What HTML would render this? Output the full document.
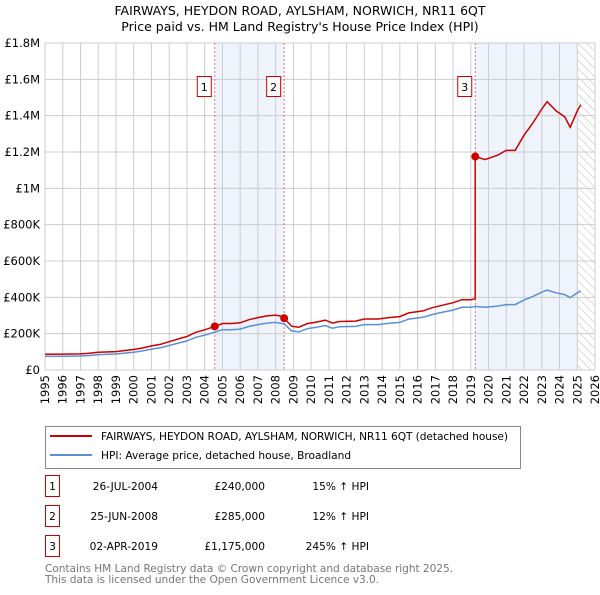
<!DOCTYPE html>
<html><head><meta charset="utf-8"><style>
body{margin:0;background:#fff;font-family:"Liberation Sans","DejaVu Sans",sans-serif;}
svg text{font-family:"DejaVu Sans","Liberation Sans",sans-serif;}
</style></head><body>
<svg id="chart" width="600" height="590" xmlns="http://www.w3.org/2000/svg">
<defs><pattern id="hatch" width="6" height="6" patternUnits="userSpaceOnUse" patternTransform="rotate(-45)"><line x1="0" y1="0" x2="0" y2="6" stroke="#bbb" stroke-width="1"/></pattern></defs>
<text x="300" y="15" font-size="12.5" text-anchor="middle">FAIRWAYS, HEYDON ROAD, AYLSHAM, NORWICH, NR11 6QT</text>
<text x="300" y="31" font-size="12.5" text-anchor="middle">Price paid vs. HM Land Registry's House Price Index (HPI)</text>
<g id="plot"></g>
<rect x="45.5" y="426.5" width="475" height="42" fill="#fff" stroke="#888"/>
<line x1="50" y1="436" x2="92" y2="436" stroke="#cc0000" stroke-width="2"/>
<text x="101" y="440" font-size="10.6" textLength="407">FAIRWAYS, HEYDON ROAD, AYLSHAM, NORWICH, NR11 6QT (detached house)</text>
<line x1="50" y1="455" x2="92" y2="455" stroke="#5b8fd6" stroke-width="2"/>
<text x="101" y="459" font-size="10.6">HPI: Average price, detached house, Broadland</text>
<g id="table" font-size="10.6"></g>
<text x="45" y="572" font-size="10.6" fill="#777" textLength="408">Contains HM Land Registry data © Crown copyright and database right 2025.</text>
<text x="45" y="583" font-size="10.6" fill="#777" textLength="334">This data is licensed under the Open Government Licence v3.0.</text>
</svg>
<script>
const hpiYears=[1995,1996,1997,1997.5,1998,1999,2000,2000.5,2001,2001.5,2002,2002.5,2003,2003.5,2004,2004.57,2005,2005.5,2006,2006.5,2007,2007.5,2008,2008.48,2008.9,2009.3,2009.8,2010.3,2010.8,2011.2,2011.6,2012.5,2013,2013.8,2014.5,2015,2015.5,2016.3,2016.8,2017.5,2018,2018.5,2019,2019.25,2019.8,2020.5,2021,2021.5,2022,2022.5,2023,2023.3,2023.8,2024.3,2024.6,2025,2025.2];
const hpiValues=[75,76,77,80,85,88,98,105,115,122,135,148,160,180,192,208,222,222,225,240,250,258,262,254,215,210,228,235,245,230,238,240,250,250,258,262,280,290,305,320,330,345,345,350,345,352,360,360,385,405,428,440,425,415,398,425,435];
const saleYears=[2004.57,2008.48,2019.25];
const salePrices=[240,285,1175];
const saleLabels=["1","2","3"];
const saleDates=["26-JUL-2004","25-JUN-2008","02-APR-2019"];
const salePriceText=["£240,000","£285,000","£1,175,000"];
const saleHpiText=["15% ↑ HPI","12% ↑ HPI","245% ↑ HPI"];
const yTicks=[0,200,400,600,800,1000,1200,1400,1600,1800];
const yTickLabels=["£0","£200K","£400K","£600K","£800K","£1M","£1.2M","£1.4M","£1.6M","£1.8M"];
const xTickYears=[1995,1996,1997,1998,1999,2000,2001,2002,2003,2004,2005,2006,2007,2008,2009,2010,2011,2012,2013,2014,2015,2016,2017,2018,2019,2020,2021,2022,2023,2024,2025,2026];

const NS="http://www.w3.org/2000/svg";
const L=45,R=595,T=43,B=370;
const xs=y=>L+(y-1995)/(2026-1995)*(R-L);
const ys=v=>B-v/1800*(B-T);
const plot=document.getElementById('plot');
function mk(tag,attrs,parent){const e=document.createElementNS(NS,tag);for(const k in attrs)e.setAttribute(k,attrs[k]);(parent||plot).appendChild(e);return e;}
function hpiAt(y){for(let i=1;i<hpiYears.length;i++){if(y<=hpiYears[i]){const t=(y-hpiYears[i-1])/(hpiYears[i]-hpiYears[i-1]);return hpiValues[i-1]+t*(hpiValues[i]-hpiValues[i-1]);}}return hpiValues[hpiValues.length-1];}
let s=mk('rect',{x:xs(saleYears[0]),y:T,width:xs(saleYears[1])-xs(saleYears[0]),height:B-T,fill:'#eef3fc'});

s=mk('rect',{x:xs(saleYears[2]),y:T,width:xs(2025.05)-xs(saleYears[2]),height:B-T,fill:'#eef3fc'});

s=mk('rect',{x:xs(2025.05),y:T,width:R-xs(2025.05),height:B-T,fill:'url(#hatch)'});

yTicks.forEach((v,i)=>{const g=mk('line',{x1:L,x2:R,y1:ys(v),y2:ys(v),stroke:'#ccc'});

const t=mk('text',{x:L-5,y:ys(v)+4,'font-size':11.5,'text-anchor':'end'});t.textContent=yTickLabels[i];
});
xTickYears.forEach(yr=>{const g=mk('line',{x1:xs(yr),x2:xs(yr),y1:T,y2:B,stroke:'#ccc'});

const t=mk('text',{x:0,y:0,'font-size':11.5,'text-anchor':'end',transform:`translate(${xs(yr)+4},${B+5}) rotate(-90)`});t.textContent=yr;
});
saleYears.forEach((yr,i)=>{const l=mk('line',{x1:xs(yr),x2:xs(yr),y1:T,y2:B,stroke:'#e05555','stroke-dasharray':'2,2','stroke-width':0.8});

const bx=xs(yr)-17;const r=mk('rect',{x:bx-0.5,y:76.5,width:14,height:20,fill:'#fff',stroke:'#cc0000'});

const t=mk('text',{x:bx+6.5,y:91,'font-size':11,'text-anchor':'middle'});t.textContent=saleLabels[i];
});
let d='';hpiYears.forEach((y,i)=>{d+=(i?'L':'M')+xs(y).toFixed(1)+','+ys(hpiValues[i]).toFixed(1);});
const hp=mk('path',{d,fill:'none',stroke:'#5b8fd6','stroke-width':1.5});

function ratioAt(y){let r=salePrices[0]/hpiAt(saleYears[0]);for(let i=0;i<saleYears.length;i++){if(y>=saleYears[i])r=salePrices[i]/hpiAt(saleYears[i]);}return r;}
let pts=[];hpiYears.forEach((y,i)=>{pts.push([y,hpiValues[i]*ratioAt(y)]);});
saleYears.forEach((y,i)=>{if(i>0){pts.push([y-0.001,hpiAt(y)*ratioAt(y-0.01)]);}pts.push([y,salePrices[i]]);});
pts.sort((a,b)=>a[0]-b[0]);
d='';pts.forEach((p,i)=>{d+=(i?'L':'M')+xs(p[0]).toFixed(1)+','+ys(p[1]).toFixed(1);});
const rp=mk('path',{d,fill:'none',stroke:'#cc0000','stroke-width':1.5});

saleYears.forEach((y,i)=>{const c=mk('circle',{cx:xs(y),cy:ys(salePrices[i]),r:4,fill:'#cc0000'});
});
const tb=document.getElementById('table');
saleYears.forEach((y,i)=>{const yy=475+i*30;
const r=mk('rect',{x:45.5,y:yy+0.5,width:14,height:21,fill:'#fff',stroke:'#cc0000'},tb);

const vals=[[52.5,saleLabels[i],'middle'],[158,saleDates[i],'end'],[265,salePriceText[i],'end'],[369,saleHpiText[i],'end']];
vals.forEach(v=>{const t=mk('text',{x:v[0],y:yy+15,'text-anchor':v[2]},tb);t.textContent=v[1];
});});
</script>
</body></html>
